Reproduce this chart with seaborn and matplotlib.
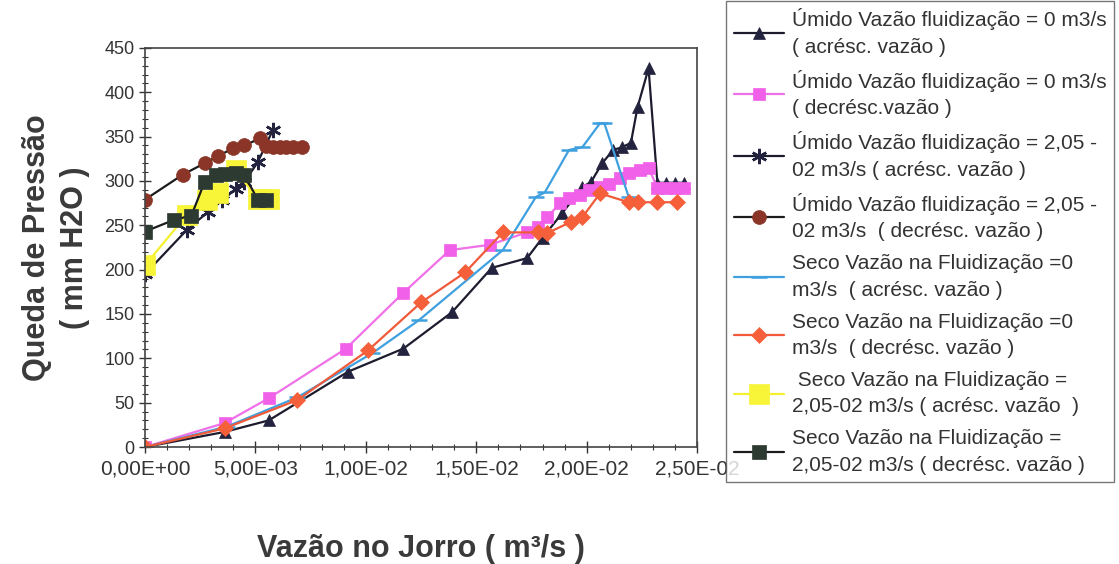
import numpy as np
import pandas as pd
import matplotlib
matplotlib.use("Agg")
import matplotlib.pyplot as plt
import seaborn as sns
from matplotlib.ticker import MultipleLocator, FuncFormatter

# dados
x_umido0_acr = [0, 0.0036, 0.0056, 0.0092, 0.0117, 0.0139, 0.0157, 0.0173, 0.0180, 0.0189, 0.0198,
                0.0202, 0.0207, 0.0212, 0.0216, 0.0220, 0.0223, 0.0228, 0.0232, 0.0236, 0.0240, 0.0244]
y_umido0_acr = [0, 17, 30, 85, 111, 152, 202, 213, 236, 264, 293,
                299, 320, 335, 338, 343, 383, 427, 298, 298, 298, 298]

x_umido0_dec = [0, 0.0036, 0.0056, 0.0091, 0.0117, 0.0138, 0.0156, 0.0173, 0.0178, 0.0182, 0.0188, 0.0192,
                0.0197, 0.0201, 0.0206, 0.0210, 0.0215, 0.0219, 0.0224, 0.0228, 0.0232, 0.0236, 0.0240, 0.0244]
y_umido0_dec = [0, 27, 55, 111, 174, 222, 228, 242, 248, 259, 275, 281,
                284, 290, 293, 297, 303, 309, 312, 315, 292, 292, 292, 292]

x_umido2_acr = [0, 0.0019, 0.00285, 0.0035, 0.0041, 0.0045, 0.0051, 0.0058]
y_umido2_acr = [195, 245, 265, 278, 291, 299, 321, 358]

x_umido2_dec = [0, 0.0017, 0.0027, 0.0033, 0.0040, 0.0045, 0.0052, 0.0055, 0.0058, 0.0061, 0.0064, 0.0067, 0.0071]
y_umido2_dec = [279, 307, 320, 328, 337, 340, 348, 339, 338, 338, 338, 338, 338]

x_seco0_acr = [0, 0.0037, 0.0069, 0.0103, 0.0124, 0.0162, 0.0177, 0.0181, 0.0192, 0.0198, 0.0206, 0.0208, 0.0219]
y_seco0_acr = [0, 23, 56, 106, 143, 222, 282, 287, 335, 338, 365, 365, 282]

x_seco0_dec = [0, 0.0036, 0.0069, 0.0101, 0.0125, 0.0145, 0.0162, 0.0178, 0.0182, 0.0193, 0.0198,
               0.0206, 0.0219, 0.0223, 0.0232, 0.0241]
y_seco0_dec = [0, 21, 53, 109, 163, 197, 242, 242, 241, 254, 259,
               286, 276, 276, 276, 276]

x_seco2_acr = [0, 0.0019, 0.0028, 0.0033, 0.0041, 0.0051, 0.0056]
y_seco2_acr = [205, 262, 278, 286, 312, 280, 280]

x_seco2_dec = [0, 0.0013, 0.0021, 0.0027, 0.0032, 0.0036, 0.0041, 0.0045, 0.0051, 0.0055]
y_seco2_dec = [243, 256, 261, 299, 307, 308, 309, 307, 279, 279]

labels = [
    "Úmido Vazão fluidização = 0 m3/s\n( acrésc. vazão )",
    "Úmido Vazão fluidização = 0 m3/s\n( decrésc.vazão )",
    "Úmido Vazão fluidização = 2,05 -\n02 m3/s ( acrésc. vazão )",
    "Úmido Vazão fluidização = 2,05 -\n02 m3/s  ( decrésc. vazão )",
    "Seco Vazão na Fluidização =0\nm3/s  ( acrésc. vazão )",
    "Seco Vazão na Fluidização =0\nm3/s  ( decrésc. vazão )",
    " Seco Vazão na Fluidização =\n2,05-02 m3/s ( acrésc. vazão  )",
    "Seco Vazão na Fluidização =\n2,05-02 m3/s ( decrésc. vazão )",
]

series = [
    (x_umido0_acr, y_umido0_acr),
    (x_umido0_dec, y_umido0_dec),
    (x_umido2_acr, y_umido2_acr),
    (x_umido2_dec, y_umido2_dec),
    (x_seco0_acr, y_seco0_acr),
    (x_seco0_dec, y_seco0_dec),
    (x_seco2_acr, y_seco2_acr),
    (x_seco2_dec, y_seco2_dec),
]

# estilo de cada serie: cor da linha, marcador, cor do marcador, tamanho
estilos = [
    ("#1c1c2e", "^", "#23233f", 9),
    ("#f070e8", "s", "#f060e8", 9),
    ("#1c1c2e", (6, 2, 0), "#23233f", 11),
    ("#1c1c1c", "o", "#8a3528", 10),
    ("#3fa0e0", "_", "#3fa0e0", 11),
    ("#f05a3a", "D", "#f5603a", 8),
    ("#f4f030", "s", "#f8f438", 15),
    ("#1c1c1c", "s", "#2c3a32", 10),
]

sns.set_style("white")
plt.rcParams['font.family'] = ['Liberation Sans', 'DejaVu Sans']

fig, ax = plt.subplots(figsize=(11.19, 5.64), dpi=100)
fig.subplots_adjust(left=0.1296, right=0.623, bottom=0.2074, top=0.915)

for (xs, ys), lab, (lc, mk, mc, ms) in zip(series, labels, estilos):
    df = pd.DataFrame({"x": xs, "y": ys})
    sns.lineplot(data=df, x="x", y="y", sort=False, ax=ax, color=lc, linewidth=1.6,
                 marker=mk, markersize=ms, markerfacecolor=mc, markeredgecolor=mc,
                 markeredgewidth=1.8 if mk in ("_", (6, 2, 0)) else 0.5, label=lab)

ax.set_xlim(0, 0.025)
ax.set_ylim(0, 450)
ax.xaxis.set_major_locator(MultipleLocator(0.005))
ax.xaxis.set_minor_locator(MultipleLocator(0.001))
ax.yaxis.set_major_locator(MultipleLocator(50))
ax.yaxis.set_minor_locator(MultipleLocator(10))
ax.xaxis.set_major_formatter(FuncFormatter(lambda v, p: "{:.2E}".format(v).replace(".", ",")))
ax.tick_params(axis="both", which="major", direction="inout", length=8, width=1, colors="#333333",
               bottom=True, left=True)
ax.tick_params(axis="x", which="major", labelsize=15, pad=5)
ax.tick_params(axis="y", which="major", labelsize=13)
ax.tick_params(axis="both", which="minor", direction="inout", length=4, width=0.8, colors="#333333",
               bottom=True, left=True)
for s in ax.spines.values():
    s.set_color("#444444")
    s.set_linewidth(1.2)

ax.set_xlabel("Vazão no Jorro ( m³/s )", fontsize=22, fontweight="bold", color="#3a3a3a", labelpad=40)
ax.set_ylabel("Queda de Pressão\n( mm H2O )", fontsize=22, fontweight="bold", color="#3a3a3a",
              labelpad=10, linespacing=1.35)

leg = ax.legend(loc="upper left", bbox_to_anchor=(0.649, 0.998), bbox_transform=fig.transFigure,
                frameon=True, fancybox=False, fontsize=15, labelspacing=0.62, handlelength=2.4,
                handletextpad=0.4, borderpad=0.35, borderaxespad=0)
leg.get_frame().set_edgecolor("#555555")
leg.get_frame().set_linewidth(1.0)
for t in leg.get_texts():
    t.set_color("#333333")
    t.set_linespacing(1.5)

plt.savefig("out.png", dpi=100, facecolor="white")
